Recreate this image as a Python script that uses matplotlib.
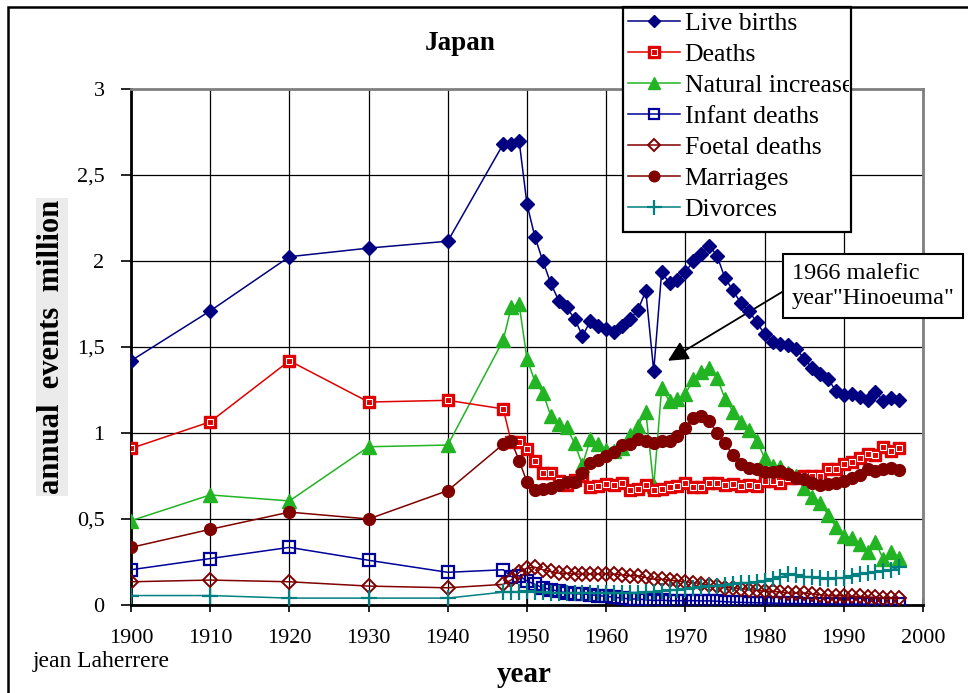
import numpy as np
import matplotlib
matplotlib.use("Agg")
from matplotlib import pyplot as plt
from matplotlib.patches import Rectangle
from matplotlib.transforms import Bbox, TransformedBbox

plt.rcParams['font.family'] = ['Liberation Serif', 'DejaVu Serif']

years = [1900, 1910, 1920, 1930, 1940] + list(range(1947, 1998))

# million per year, 1900-1940 then 1947-1997
births = [1.42, 1.71, 2.025, 2.075, 2.115,
          2.68, 2.68, 2.70, 2.33, 2.14, 2.00, 1.87, 1.77, 1.73, 1.665, 1.565, 1.65, 1.625,
          1.605, 1.59, 1.62, 1.66, 1.715, 1.825, 1.36, 1.935, 1.87, 1.89,
          1.935, 2.00, 2.04, 2.09, 2.03, 1.90, 1.83, 1.755, 1.71, 1.645,
          1.575, 1.53, 1.515, 1.51, 1.49, 1.43, 1.38, 1.345, 1.315, 1.245,
          1.22, 1.225, 1.21, 1.19, 1.24, 1.185, 1.205, 1.19]
deaths = [0.91, 1.065, 1.42, 1.18, 1.19,
          1.14, 0.95, 0.945, 0.905, 0.84, 0.765, 0.77, 0.72, 0.695, 0.725, 0.75, 0.685, 0.69,
          0.705, 0.695, 0.71, 0.67, 0.675, 0.70, 0.67, 0.675, 0.685, 0.69,
          0.71, 0.685, 0.685, 0.71, 0.71, 0.70, 0.705, 0.69, 0.695, 0.69,
          0.72, 0.72, 0.71, 0.74, 0.74, 0.75, 0.75, 0.75, 0.79, 0.79,
          0.82, 0.83, 0.855, 0.88, 0.875, 0.92, 0.895, 0.915]
nat_incr = [0.49, 0.64, 0.605, 0.92, 0.93,
            1.54, 1.73, 1.75, 1.43, 1.30, 1.235, 1.10, 1.05, 1.035, 0.94, 0.815, 0.965, 0.935,
            0.90, 0.895, 0.91, 0.99, 1.04, 1.125, 0.69, 1.26, 1.185, 1.20,
            1.225, 1.315, 1.355, 1.38, 1.32, 1.20, 1.125, 1.065, 1.015, 0.955,
            0.855, 0.81, 0.805, 0.77, 0.75, 0.68, 0.63, 0.595, 0.525, 0.455,
            0.40, 0.39, 0.355, 0.31, 0.365, 0.265, 0.31, 0.275]
infant = [0.205, 0.27, 0.335, 0.26, 0.19,
          0.205, 0.165, 0.17, 0.14, 0.12, 0.10, 0.09, 0.08, 0.07, 0.065, 0.065, 0.06, 0.055,
          0.05, 0.045, 0.04, 0.035, 0.035, 0.03, 0.026, 0.028, 0.025, 0.025,
          0.025, 0.025, 0.024, 0.024, 0.022, 0.019, 0.017, 0.015, 0.014, 0.013,
          0.012, 0.011, 0.010, 0.009, 0.009, 0.008, 0.007, 0.007, 0.006, 0.006,
          0.005, 0.005, 0.005, 0.005, 0.005, 0.005, 0.004, 0.004]
foetal = [0.135, 0.145, 0.135, 0.11, 0.10,
          0.12, 0.145, 0.19, 0.215, 0.22, 0.205, 0.195, 0.185, 0.185, 0.18, 0.18, 0.18, 0.18,
          0.18, 0.18, 0.175, 0.17, 0.17, 0.16, 0.15, 0.15, 0.145, 0.14,
          0.135, 0.13, 0.125, 0.115, 0.11, 0.10, 0.10, 0.095, 0.09, 0.085,
          0.08, 0.08, 0.075, 0.07, 0.07, 0.07, 0.065, 0.06, 0.055, 0.055,
          0.055, 0.05, 0.05, 0.045, 0.045, 0.04, 0.04, 0.04]
marriages = [0.335, 0.44, 0.54, 0.50, 0.665,
             0.935, 0.955, 0.84, 0.715, 0.67, 0.675, 0.68, 0.695, 0.715, 0.715, 0.77, 0.825, 0.845,
             0.865, 0.89, 0.93, 0.935, 0.965, 0.955, 0.94, 0.955, 0.955, 0.985,
             1.03, 1.09, 1.10, 1.07, 1.00, 0.94, 0.87, 0.82, 0.795, 0.79,
             0.775, 0.775, 0.78, 0.76, 0.74, 0.735, 0.71, 0.695, 0.705, 0.71,
             0.72, 0.74, 0.755, 0.79, 0.78, 0.79, 0.795, 0.785]
divorces = [0.055, 0.055, 0.04, 0.04, 0.04,
            0.075, 0.075, 0.078, 0.08, 0.075, 0.075, 0.072, 0.07, 0.07, 0.07, 0.068, 0.069, 0.069,
            0.067, 0.067, 0.069, 0.068, 0.071, 0.075, 0.078, 0.081, 0.085, 0.089,
            0.094, 0.101, 0.106, 0.11, 0.112, 0.117, 0.122, 0.128, 0.13, 0.133,
            0.14, 0.152, 0.162, 0.178, 0.177, 0.165, 0.164, 0.157, 0.152, 0.156,
            0.156, 0.167, 0.178, 0.187, 0.194, 0.197, 0.205, 0.22]

fig = plt.figure(figsize=(9.68, 6.93), dpi=100)
ax = fig.add_axes([131/968, 1-605/693, (923-131)/968, (605-89)/693])

lw = 1.1
h_births, = ax.plot(years, births, color='#000080', lw=lw, marker='D', ms=7, label='Live births', zorder=5)
h_deaths, = ax.plot(years, deaths, color='#e00000', lw=lw, marker='s', ms=9, mfc='#e00000', mec='#e00000',
                    label='Deaths', zorder=4)
h_deaths2, = ax.plot(years, deaths, ls='none', marker='s', ms=5, mfc='none', mec='white', mew=0.8, zorder=4)
h_nat, = ax.plot(years, nat_incr, color='#22b422', lw=lw, marker='^', ms=10, label='Natural increase', zorder=3)
h_inf, = ax.plot(years, infant, color='#000099', lw=lw, marker='s', ms=8.5, mfc='none', mew=1.6,
                 label='Infant deaths', zorder=3)
h_foet, = ax.plot(years, foetal, color='#800000', lw=lw, marker='D', ms=7, mfc='none', mew=1.4,
                  label='Foetal deaths', zorder=3)
h_marr, = ax.plot(years, marriages, color='#800000', lw=lw, marker='o', ms=8.5, label='Marriages', zorder=4)
h_div, = ax.plot(years, divorces, color='#008080', lw=lw, marker='+', ms=12, mew=1.6, label='Divorces', zorder=3)

ax.set_xlim(1900, 2000)
ax.set_ylim(0, 3)
ax.set_xticks(range(1900, 2001, 10))
ax.set_yticks(np.arange(0, 3.01, 0.5))
ax.set_yticklabels(['0', '0,5', '1', '1,5', '2', '2,5', '3'])
ax.tick_params(labelsize=16, length=7, width=1.2, color='black')
ax.tick_params(axis='y', pad=12)
ax.tick_params(axis='x', direction='inout', length=10, pad=12)
ax.grid(True, color='black', lw=0.9)
ax.set_axisbelow(True)
ax.spines['left'].set_linewidth(2)
ax.spines['bottom'].set_linewidth(2)
for s in ['top', 'right']:
    ax.spines[s].set_color('#808080')
    ax.spines[s].set_linewidth(2)

fig.text(460/968, 1-44/693, 'Japan', ha='center', va='center', fontsize=19.5, fontweight='bold')
fig.text(52/968, 1-347/693, 'annual  events  million', rotation=90, ha='center', va='center',
         fontsize=22, fontweight='bold',
         bbox=dict(facecolor='#ebebeb', edgecolor='none', pad=1))
fig.text(524/968, 1-675/693, 'year', ha='center', va='center', fontsize=21, fontweight='bold')
fig.text(33/968, 1-662/693, 'jean Laherrere', ha='left', va='center', fontsize=17)

ax.annotate('1966 malefic\nyear"Hinoeuma"', xy=(1967.8, 1.42), xycoords='data',
            xytext=(792, 693-286), textcoords='figure pixels',
            ha='left', va='center', fontsize=17.5, linespacing=1.25, annotation_clip=False,
            bbox=dict(boxstyle='square,pad=0.35', fc='white', ec='black', lw=1.5),
            arrowprops=dict(arrowstyle='-|>,head_length=0.7,head_width=0.35', color='black', lw=1.3,
                            relpos=(0, 0.5), shrinkA=0, shrinkB=0))

leg_box = [623/968, 1-232/693, 851/968, 1-7/693]
handles = [h_births, (h_deaths, h_deaths2), h_nat, h_inf, h_foet, h_marr, h_div]
labels = ['Live births', 'Deaths', 'Natural increase', 'Infant deaths', 'Foetal deaths', 'Marriages', 'Divorces']
leg = ax.legend(handles, labels, loc='upper left', bbox_to_anchor=(leg_box[0], leg_box[3]),
                bbox_transform=fig.transFigure, fontsize=18.5, frameon=False,
                handlelength=2.0, handletextpad=0.2, labelspacing=0.31,
                borderaxespad=0, borderpad=0.2, markerscale=0.9)
leg.set_zorder(20)
clip = TransformedBbox(Bbox([[leg_box[0], leg_box[1]], [leg_box[2] - 2/968, leg_box[3]]]), fig.transFigure)
for t in leg.get_texts():
    t.set_clip_box(clip)
    t.set_clip_on(True)
ax.add_patch(Rectangle((leg_box[0], leg_box[1]), leg_box[2]-leg_box[0], leg_box[3]-leg_box[1],
                       transform=fig.transFigure, fc='white', ec='black', lw=1.6, zorder=15, clip_on=False))

# outer frame
fig.patches.append(Rectangle((8/968, -0.05), 1.2, 1-7/693+0.05, transform=fig.transFigure,
                             fill=False, ec='black', lw=1.8, zorder=30))

fig.savefig('out.png', dpi=100)
